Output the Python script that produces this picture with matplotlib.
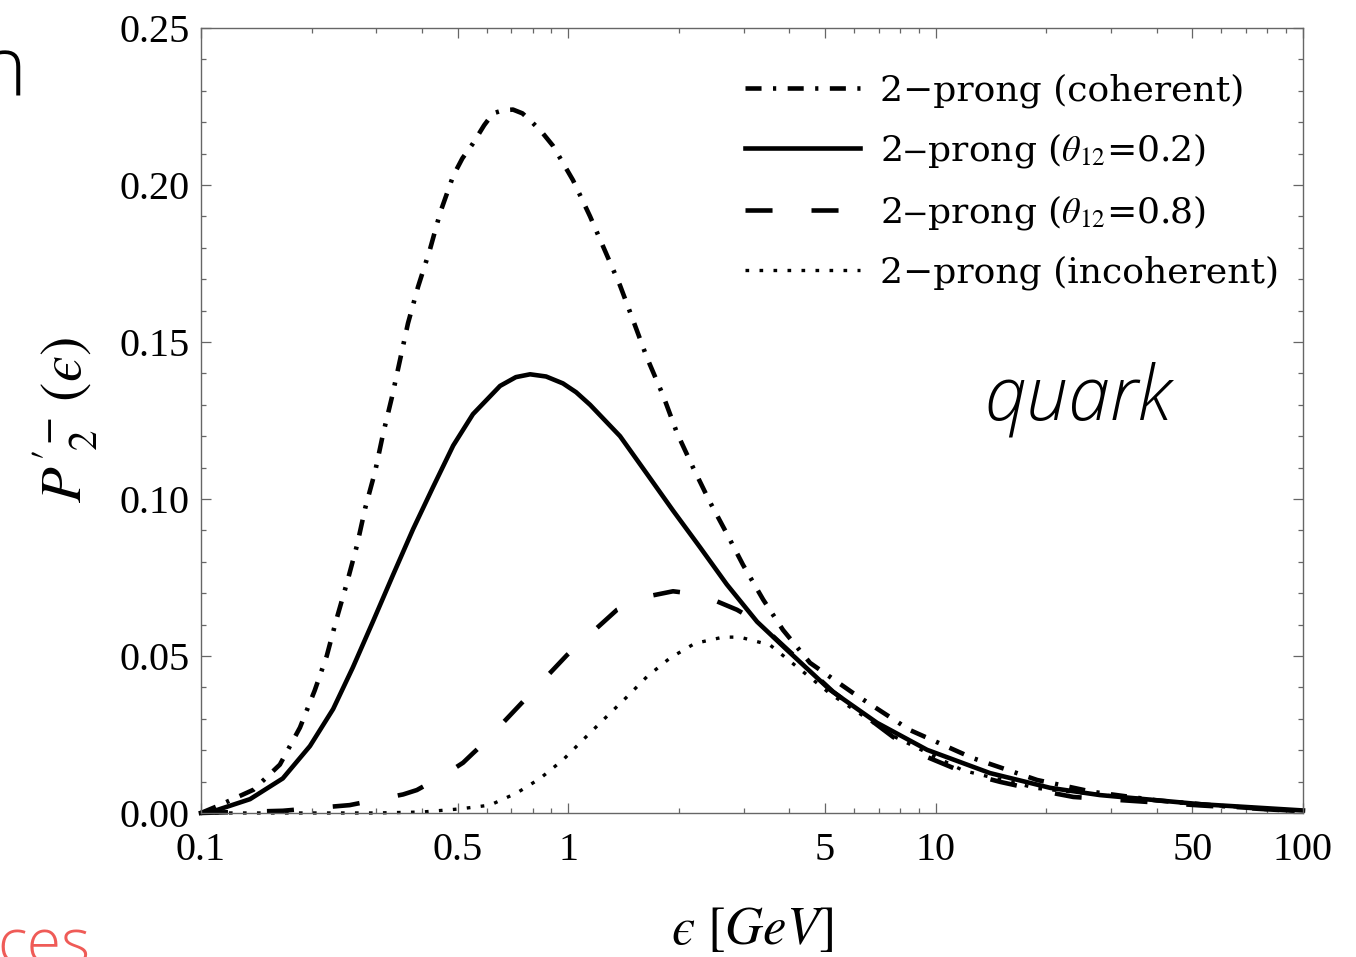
import numpy as np
import matplotlib.pyplot as plt
from matplotlib.ticker import FixedLocator, FixedFormatter, LogLocator, NullFormatter, MultipleLocator, FormatStrFormatter

plt.rcParams['font.family'] = ['Liberation Serif', 'DejaVu Serif']
plt.rcParams['mathtext.fontset'] = 'stix'

# energy fraction eps [GeV] and P_2 values for each curve
eps_coh = [0.1, 0.111, 0.139, 0.164, 0.186, 0.204, 0.220, 0.234, 0.250, 0.266, 0.280, 0.298,
           0.313, 0.331, 0.348, 0.366, 0.390, 0.420, 0.448, 0.486, 0.515, 0.550, 0.59, 0.624,
           0.665, 0.707, 0.75, 0.787, 0.845, 0.908, 1.03, 1.146, 1.259, 1.383, 1.50, 1.637,
           1.811, 1.977, 2.186, 2.43, 2.70, 2.99, 3.39, 3.84, 4.55, 5.96, 8.51, 12.6, 18.9,
           26.8, 40.0, 60.0, 100.0]
p_coh = [0.0, 0.0022, 0.0074, 0.0154, 0.0272, 0.039, 0.050, 0.0618, 0.0735, 0.0853, 0.0971, 0.1088,
         0.1206, 0.1324, 0.1441, 0.1559, 0.1676, 0.1794, 0.1912, 0.2029, 0.2085, 0.2132, 0.2190, 0.2228,
         0.2238, 0.2240, 0.2228, 0.2206, 0.2170, 0.2125, 0.2015, 0.190, 0.179, 0.168, 0.157, 0.145,
         0.133, 0.121, 0.110, 0.099, 0.089, 0.079, 0.068, 0.0583, 0.0478, 0.0382, 0.0264, 0.0175, 0.0105,
         0.0067, 0.0040, 0.0022, 0.0005]

eps_02 = [0.1, 0.111, 0.136, 0.167, 0.198, 0.229, 0.259, 0.294, 0.333, 0.378, 0.428, 0.486,
          0.550, 0.652, 0.72, 0.787, 0.87, 0.967, 1.05, 1.146, 1.383, 1.637, 1.928, 2.284, 2.70,
          3.265, 3.94, 5.16, 6.93, 9.48, 14.06, 20.5, 28.0, 52.5, 100.0]
p_02 = [0.0, 0.001, 0.0044, 0.011, 0.0213, 0.0331, 0.0463, 0.061, 0.0757, 0.0904, 0.1037, 0.117,
        0.127, 0.136, 0.1388, 0.1397, 0.1390, 0.1368, 0.1340, 0.130, 0.120, 0.108, 0.0963, 0.0846, 0.0728,
        0.0609, 0.0519, 0.0392, 0.0287, 0.0201, 0.0127, 0.008, 0.0057, 0.0028, 0.0008]

eps_08 = [0.1, 0.167, 0.254, 0.355, 0.387, 0.420, 0.465, 0.517, 0.550, 0.586, 0.738, 0.992, 1.357,
          1.65, 1.928, 2.30, 2.88, 3.265, 5.26, 7.66, 9.48, 11.9, 14.98, 18.9, 23.7, 52.5, 100.0]
p_08 = [0.0, 0.0007, 0.0025, 0.0059, 0.0073, 0.0096, 0.0125, 0.016, 0.019, 0.022, 0.0344, 0.0503, 0.0647,
        0.0690, 0.0706, 0.0695, 0.0647, 0.061, 0.0386, 0.0242, 0.0178, 0.013, 0.0099, 0.0073, 0.0051, 0.0024, 0.0005]

eps_inc = [0.1, 0.2, 0.3, 0.4, 0.507, 0.612, 0.725, 0.838, 0.967, 1.11, 1.259, 1.445,
           1.637, 1.89, 2.21, 2.64, 2.93, 3.54, 5.16, 7.66, 11.9, 18.9, 52.5, 100.0]
p_inc = [0.0, 0.0, 0.0, 0.0003, 0.0013, 0.0025, 0.0064, 0.011, 0.0169, 0.0239, 0.0302, 0.037,
         0.0434, 0.0493, 0.054, 0.056, 0.056, 0.0535, 0.038, 0.0245, 0.0135, 0.0078, 0.0027, 0.0005]

labels = ['2\u2212prong (coherent)',
          r'2$-$prong ($\theta_{12}$=0.2)',
          r'2$-$prong ($\theta_{12}$=0.8)',
          '2\u2212prong (incoherent)']

xticks = [0.1, 0.5, 1, 5, 10, 50, 100]
xticklabels = ['0.1', '0.5', '1', '5', '10', '50', '100']

fig = plt.figure(figsize=(13.56, 9.57), dpi=100)
ax = fig.add_axes([0.1482, 0.1505, 0.8127, 0.8203])

ax.plot(eps_coh, p_coh, color='black', lw=3.3, dashes=(3.5, 2.5, 0.7, 2.5), label=labels[0], clip_on=False)
ax.plot(eps_02, p_02, color='black', lw=3.3, label=labels[1], clip_on=False)
ax.plot(eps_08, p_08, color='black', lw=3.3, dashes=(5.9, 8.5), label=labels[2], clip_on=False)
ax.plot(eps_inc, p_inc, color='black', lw=2.4, dashes=(1.1, 3.1), label=labels[3], clip_on=False)

ax.set_xscale('log')
ax.set_xlim(0.1, 100)
ax.set_ylim(0, 0.25)

# log ticks: labelled majors, unlabelled minors
ax.xaxis.set_major_locator(FixedLocator(xticks))
ax.xaxis.set_major_formatter(FixedFormatter(xticklabels))
ax.xaxis.set_minor_locator(LogLocator(base=10, subs=np.arange(2, 10), numticks=20))
ax.xaxis.set_minor_formatter(NullFormatter())
ax.yaxis.set_major_locator(MultipleLocator(0.05))
ax.yaxis.set_minor_locator(MultipleLocator(0.01))
ax.yaxis.set_major_formatter(FormatStrFormatter('%.2f'))

frame = '#666666'
for s in ax.spines.values():
    s.set_color(frame)
    s.set_linewidth(1.0)
ax.tick_params(which='both', direction='in', top=True, right=True, color=frame, width=0.9)
ax.tick_params(which='major', length=7.5)
ax.tick_params(which='minor', length=3.8)
ax.tick_params(axis='x', which='major', labelsize=29, pad=14)
ax.tick_params(axis='y', which='major', labelsize=29, pad=8)

ax.set_xlabel('$\u03f5\\ [GeV]$', fontsize=38, labelpad=26)
ax.set_ylabel("$P^{\\prime}{}_{\\!2}^{\\!-}\\,(\u03f5)$", fontsize=42, labelpad=14)

ax.legend(loc='upper left', bbox_to_anchor=(0.4936, 0.942), frameon=False,
          prop={'family': 'DejaVu Serif', 'size': 26},
          handlelength=3.18, handletextpad=0.55, labelspacing=0.64, borderpad=0, borderaxespad=0)

ax.text(0.711, 0.5006, 'quark', transform=ax.transAxes, fontsize=54, family='Open Sans',
        style='italic', weight='light', va='baseline', ha='left')

# bits of the surrounding slide cut off at the edges
fig.text(-22 / 1356, 1 - 95 / 957, 'n', fontsize=60, family='Open Sans', weight='light', va='baseline')
fig.text(-3 / 1356, 1 - 964 / 957, 'ces', fontsize=45, family='Open Sans', weight='light',
         color='#EF5B57', va='baseline')

plt.savefig('out.png', dpi=100)
